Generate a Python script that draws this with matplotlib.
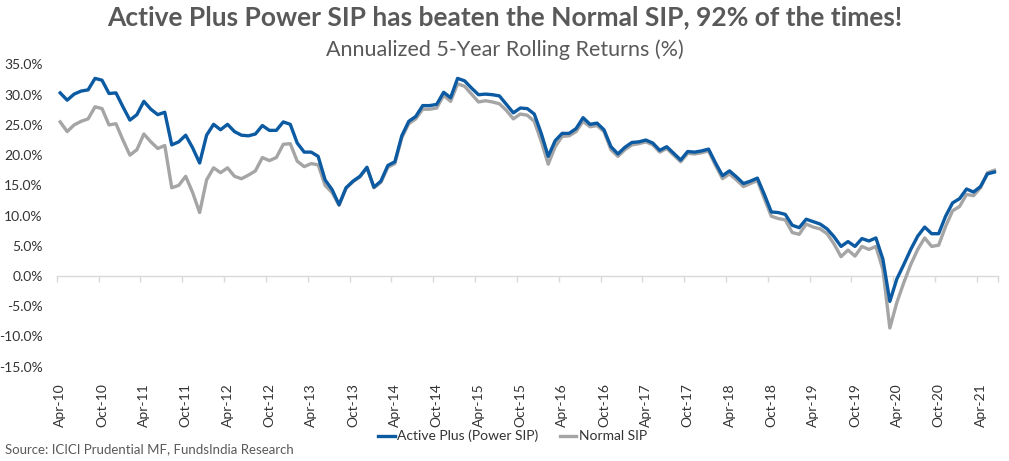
import matplotlib
matplotlib.use('Agg')
import matplotlib.pyplot as plt
from matplotlib.ticker import FuncFormatter

# ------------------- Data (monthly Apr-10 .. Jun-21) -----------------------------------------
power_sip = [
    30.3, 29.1, 30.1, 30.6, 30.8, 32.7, 32.4, 30.2, 30.3, 28.0, 25.8, 26.7,
    28.9, 27.6, 26.7, 27.1, 21.7, 22.2, 23.3, 21.2, 18.7, 23.3, 25.1, 24.2,
    25.1, 23.9, 23.3, 23.2, 23.5, 24.9, 24.1, 24.1, 25.5, 25.1, 22.0, 20.5,
    20.5, 19.8, 15.9, 14.3, 11.8, 14.6, 15.7, 16.5, 18.0, 14.7, 15.7, 18.3,
    18.9, 23.2, 25.6, 26.4, 28.2, 28.2, 28.4, 30.4, 29.5, 32.7, 32.3, 31.1,
    30.0, 30.1, 30.0, 29.8, 28.4, 27.0, 27.8, 27.7, 26.8, 23.6, 19.8, 22.4,
    23.6, 23.6, 24.4, 26.2, 25.1, 25.3, 24.2, 21.4, 20.2, 21.3, 22.1, 22.2,
    22.5, 22.0, 20.8, 21.4, 20.3, 19.2, 20.6, 20.5, 20.7, 21.0, 18.7, 16.6,
    17.4, 16.4, 15.3, 15.7, 16.2, 13.5, 10.6, 10.5, 10.2, 8.4, 8.0, 9.4,
    9.0, 8.6, 7.8, 6.5, 4.9, 5.7, 4.9, 6.2, 5.8, 6.3, 2.8, -4.2,
    -0.5, 1.9, 4.4, 6.6, 8.1, 7.0, 7.0, 9.9, 12.1, 12.8, 14.4, 13.9,
    14.8, 16.9, 17.2,
]
normal_sip = [
    25.5, 23.9, 25.0, 25.6, 26.0, 28.0, 27.7, 25.0, 25.2, 22.5, 20.0, 20.9,
    23.5, 22.2, 21.1, 21.6, 14.6, 15.0, 16.5, 13.8, 10.5, 15.9, 17.9, 17.1,
    17.9, 16.5, 16.1, 16.7, 17.4, 19.6, 19.1, 19.6, 21.8, 21.9, 19.0, 18.1,
    18.6, 18.4, 15.0, 13.8, 11.7, 14.5, 15.6, 16.4, 17.9, 14.6, 15.5, 18.0,
    18.6, 22.9, 25.2, 26.0, 27.6, 27.6, 27.8, 29.9, 28.9, 31.8, 31.4, 30.1,
    28.8, 29.0, 28.8, 28.5, 27.4, 26.0, 26.8, 26.6, 25.6, 22.3, 18.5, 21.4,
    23.1, 23.2, 23.9, 25.6, 24.7, 24.9, 23.9, 20.9, 19.8, 20.9, 21.7, 21.9,
    22.2, 21.7, 20.5, 21.1, 20.0, 18.9, 20.3, 20.2, 20.4, 20.7, 18.3, 16.1,
    16.9, 15.9, 14.8, 15.3, 15.8, 12.8, 9.9, 9.5, 9.3, 7.2, 6.9, 8.6,
    8.1, 7.8, 7.0, 5.3, 3.2, 4.3, 3.3, 4.9, 4.4, 4.9, 1.1, -8.6,
    -4.4, -1.1, 1.9, 4.4, 6.3, 4.9, 5.1, 8.2, 10.8, 11.5, 13.5, 13.3,
    14.6, 17.1, 17.5,
]
tick_labels = ['Apr-10', 'Oct-10', 'Apr-11', 'Oct-11', 'Apr-12', 'Oct-12',
               'Apr-13', 'Oct-13', 'Apr-14', 'Oct-14', 'Apr-15', 'Oct-15',
               'Apr-16', 'Oct-16', 'Apr-17', 'Oct-17', 'Apr-18', 'Oct-18',
               'Apr-19', 'Oct-19', 'Apr-20', 'Oct-20', 'Apr-21']

months = list(range(len(power_sip)))
label_pos = months[::6]

# ------------------- Figure ---------------------
plt.rcParams['font.family'] = ['Lato', 'DejaVu Sans']
fig = plt.figure(figsize=(10.09, 4.61), dpi=100)
ax = fig.add_axes([0.0562, 0.2046, 0.9328, 0.6555])

ax.plot(months, power_sip, color='#0B5AA2', lw=2.4, label='Active Plus (Power SIP)', zorder=3,
        solid_joinstyle='round')
ax.plot(months, normal_sip, color='#A5A5A5', lw=2.4, label='Normal SIP', zorder=2,
        solid_joinstyle='round')

ax.set_xlim(-0.5, len(months) - 0.5)
ax.set_ylim(-15, 35)
ax.set_yticks(range(-15, 40, 5))
ax.yaxis.set_major_formatter(FuncFormatter(lambda v, p: f'{v:.1f}%'))
ax.tick_params(axis='y', length=0, pad=10, labelsize=10, labelcolor='#333333')

ax.set_xticks(label_pos)
ax.set_xticklabels(tick_labels, rotation=90)
ax.tick_params(axis='x', length=0, pad=12, labelsize=10, labelcolor='#333333')

for s in ax.spines.values():
    s.set_visible(False)

# zero line with tick marks between categories
zero_frac = (0 - (-15)) / (35 - (-15))
sec = ax.secondary_xaxis(zero_frac)
sec.set_xticks([p - 0.5 for p in label_pos] + [len(months) - 0.5])
sec.set_xticklabels([])
sec.tick_params(axis='x', direction='out', length=4, color='#D9D9D9', width=1)
sec.spines['bottom'].set_color('#D9D9D9')
sec.spines['bottom'].set_linewidth(1)
sec.spines['top'].set_visible(False)

fig.text(0.5, 0.962, 'Active Plus Power SIP has beaten the Normal SIP, 92% of the times!',
         ha='center', va='center', fontsize=19, fontweight='bold', color='#595959')
fig.text(0.5, 0.892, 'Annualized 5-Year Rolling Returns (%)',
         ha='center', va='center', fontsize=15.5, color='#595959')

fig.legend(loc='center', bbox_to_anchor=(0.508, 0.054), ncol=2, frameon=False,
           fontsize=10, handlelength=1.2, handletextpad=0.2, columnspacing=1.5,
           labelcolor='#333333')

fig.text(0.005, 0.026, 'Source: ICICI Prudential MF, FundsIndia Research',
         ha='left', va='center', fontsize=9.5, color='#595959')

fig.savefig('out.png', dpi=100)
